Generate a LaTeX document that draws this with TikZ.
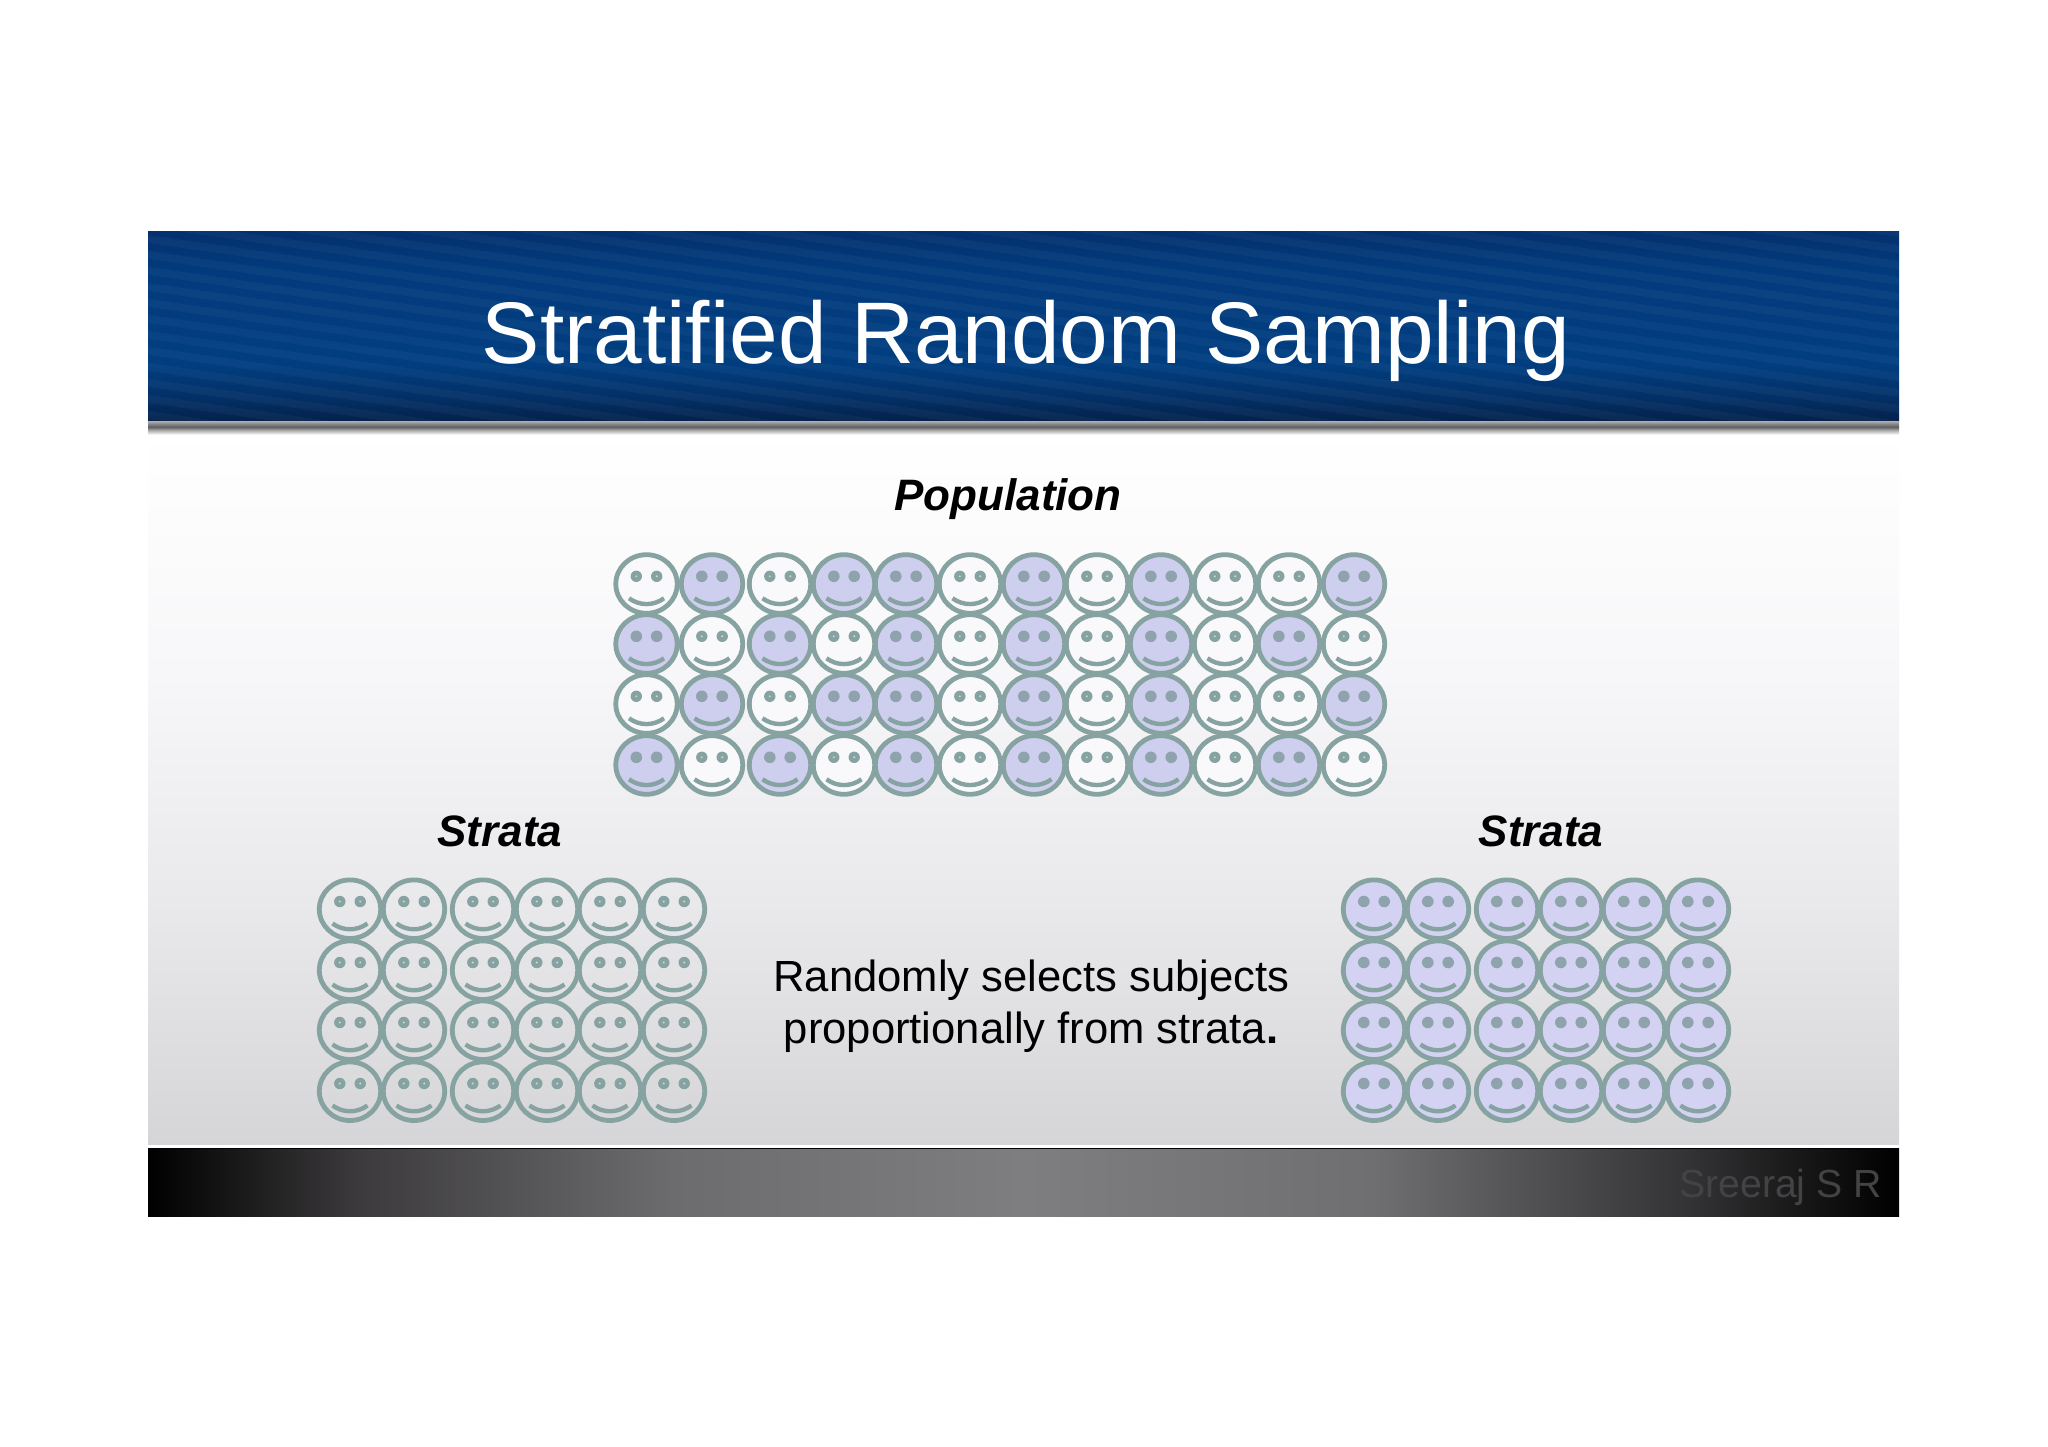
\documentclass[tikz,border=0pt]{standalone}
\usepackage{fontspec}
\setmainfont{Liberation Sans}
\definecolor{ring}{HTML}{86A3A2}
\definecolor{eyeL}{HTML}{8FA3AD}
\definecolor{lilac}{HTML}{CECEEE}
\definecolor{lilacB}{HTML}{D3D2F2}
\definecolor{paleF}{HTML}{F9F9FB}
\definecolor{hA}{HTML}{03224C}
\definecolor{hB}{HTML}{032F66}
\definecolor{hC}{HTML}{013E80}
\definecolor{hD}{HTML}{023B7D}
\definecolor{hE}{HTML}{03306E}
\definecolor{bA}{HTML}{D5D5D7}
\definecolor{bB}{HTML}{E9E9EB}
\definecolor{bC}{HTML}{F7F7F9}
\definecolor{gA}{HTML}{F2F2F2}
\definecolor{gB}{HTML}{A8A8A8}
\definecolor{gC}{HTML}{606060}
\definecolor{gD}{HTML}{808080}
\definecolor{gE}{HTML}{B0B0B0}
\definecolor{fA}{HTML}{3C3A3C}
\definecolor{fB}{HTML}{6C6C6E}
\definecolor{fC}{HTML}{7E7E80}
\definecolor{fD}{HTML}{6F6F71}
\definecolor{fE}{HTML}{333234}
\definecolor{creditC}{HTML}{434345}
\pgfdeclareverticalshading{headshade}{100bp}{
 color(0bp)=(hA);
 color(25bp)=(hA);
 color(31bp)=(hB);
 color(40bp)=(hC);
 color(65bp)=(hD);
 color(75bp)=(hE);
 color(100bp)=(hE)}
\pgfdeclareverticalshading{bodyshade}{100bp}{
 color(0bp)=(bA);
 color(25bp)=(bA);
 color(42bp)=(bB);
 color(58bp)=(bC);
 color(75bp)=(white);
 color(100bp)=(white)}
\pgfdeclareverticalshading{barshade}{100bp}{
 color(0bp)=(white);
 color(25bp)=(gA);
 color(40bp)=(gB);
 color(52bp)=(gC);
 color(62bp)=(gD);
 color(75bp)=(gE);
 color(100bp)=(gE)}
\pgfdeclarehorizontalshading{footshade}{100bp}{
 color(0bp)=(black);
 color(25bp)=(black);
 color(31bp)=(fA);
 color(40bp)=(fB);
 color(50bp)=(fC);
 color(60bp)=(fD);
 color(69bp)=(fE);
 color(75bp)=(black);
 color(100bp)=(black)}
\tikzset{
 x=1pt,y=-1pt,
 ringline/.style={draw=ring,line width=4.8pt},
 eyeblob/.style={fill=eyeL},
 eyepale/.style={fill=ring},
 mouthline/.style={draw=ring,line width=4.4pt,line cap=butt},
 titletext/.style={text=white,font=\fontsize{87.4}{87.4}\selectfont,inner sep=0pt,anchor=base},
 headtext/.style={text=black,font=\fontsize{44}{44}\selectfont\bfseries\itshape,inner sep=0pt,anchor=base},
 bodytext/.style={text=black,font=\fontsize{43.6}{43.6}\selectfont,inner sep=0pt,anchor=base},
 foottext/.style={text=creditC,font=\fontsize{39.2}{39.2}\selectfont,inner sep=0pt,anchor=base east}
}
% \smileyface{x}{y}{fill}{p=pale eyes, l=lilac eyes}
\newcommand{\smileyface}[4]{%
 \begin{scope}[shift={(#1,#2)}]
  \path[ringline,fill=#3] (0,0) ellipse [x radius=30.7,y radius=29.3];
  \if#4p
   \fill[eyepale] (-10.2,-7.7) circle (5.7);
   \fill[eyepale] (10.2,-7.7) circle (5.7);
   \fill[paleF,opacity=0.6] (-10.2,-7.7) circle (1.1);
   \fill[paleF,opacity=0.6] (10.2,-7.7) circle (1.1);
  \else
   \fill[eyeblob] (-10.2,-7.7) circle (5.8);
   \fill[eyeblob] (10.2,-7.7) circle (5.8);
  \fi
  \draw[mouthline] (-17.5,14.3) .. controls (-7,22) and (7,22) .. (17.5,14.3);
 \end{scope}}
\begin{document}
\begin{tikzpicture}
\useasboundingbox (0,0) rectangle (2048,1447);
\fill[white] (0,0) rectangle (2048,1447);
% body
\shade[shading=bodyshade] (148,430) rectangle (1899,1147);
\fill[white] (148,1145) rectangle (1899,1148);
% header
\shade[shading=headshade] (148,232) rectangle (1899,421);
\begin{scope}
 \clip (148,232) rectangle (1899,421);
 \foreach \k in {-30,...,40}{
  \fill[white,opacity=0.035] (148,{231+\k*16-60}) -- (1899,{231+\k*16+190}) -- (1899,{231+\k*16+198}) -- (148,{231+\k*16-52}) -- cycle;
 }
\end{scope}
\shade[shading=barshade] (148,421) rectangle (1899,434);
% footer
\shade[shading=footshade] (148,1148) rectangle (1899,1216);
\draw[black,line width=1pt] (148,1148.5) -- (1899,1148.5);
% texts
\node[titletext] (title) at (1026,363) {Stratified Random Sampling};
\node[headtext] (population) at (1008,510.5) {Population};
\node[headtext] (strataL) at (500,846) {Strata};
\node[headtext] (strataR) at (1541,846) {Strata};
\node[bodytext] (line1) at (1031.5,991) {Randomly selects subjects};
\node[bodytext] (line2) at (1031,1043.3) {proportionally from strata{\bfseries .}};
\node[foottext] (credit) at (1882,1197) {Sreeraj S R};
% population
\foreach \yy/\row in {584/{p,l,p,l,l,p,l,p,l,p,p,l},644/{l,p,l,p,l,p,l,p,l,p,l,p},704/{p,l,p,l,l,p,l,p,l,p,p,l},765/{l,p,l,p,l,p,l,p,l,p,l,p}}{
 \foreach \xx [count=\n] in {646.5,712,780,844,906,970,1034,1097,1161,1225,1289,1354}{
  \foreach \c [count=\m] in \row {
   \ifnum\m=\n
    \if\c p\smileyface{\xx}{\yy}{paleF}{p}\else\smileyface{\xx}{\yy}{lilac}{l}\fi
   \fi
  }
 }
}
% strata
\foreach \yy in {909.2,970.2,1030.2,1091.2}{
 \foreach \xx in {350,414,483,547,610,674}{\smileyface{\xx}{\yy}{none}{p}}
 \foreach \xx in {1374,1438,1507,1571,1634,1698}{\smileyface{\xx}{\yy}{lilacB}{l}}
}
\end{tikzpicture}
\end{document}
